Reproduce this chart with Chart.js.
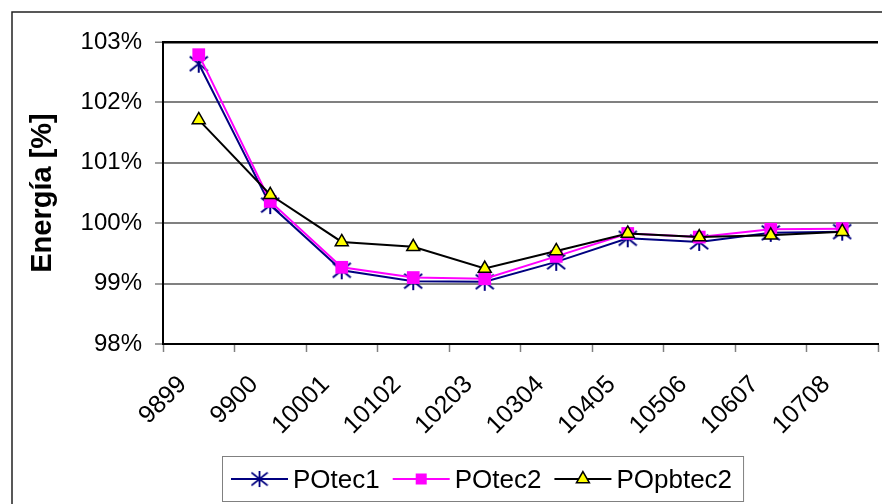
<!DOCTYPE html>
<html>
<head>
<meta charset="utf-8">
<script src="https://cdn.jsdelivr.net/npm/chart.js"></script>
<style>
  html, body { margin: 0; padding: 0; background: #fff; overflow: hidden; }
  #wrap { width: 890px; height: 504px; }
</style>
</head>
<body>
<div id="wrap"><canvas id="chart" width="890" height="504"></canvas></div>
<script>
const categories = ['9899', '9900', '10001', '10102', '10203', '10304', '10405', '10506', '10607', '10708'];
const poTec1   = [102.64, 100.30, 99.22, 99.04, 99.03, 99.36, 99.75, 99.69, 99.84, 99.86];
const poTec2   = [102.79, 100.36, 99.27, 99.10, 99.08, 99.45, 99.83, 99.77, 99.90, 99.91];
const poPbTec2 = [101.71, 100.47, 99.69, 99.61, 99.25, 99.54, 99.83, 99.77, 99.80, 99.86];
const seriesNames = ['POtec1', 'POtec2', 'POpbtec2'];
const yMin = 98, yMax = 103, yStep = 1;

const FONT = '"Liberation Sans", Arial, sans-serif';
const NAVY = '#000080', MAGENTA = '#FF00FF', YELLOW = '#FFFF00';

// asterisk marker: vertical bar plus two diagonals
function makeStar(size, color) {
  const c = document.createElement('canvas');
  c.width = size; c.height = size;
  const g = c.getContext('2d');
  const m = size / 2, r = size / 2 - 1;
  g.strokeStyle = color;
  g.lineWidth = 2;
  g.beginPath();
  g.moveTo(m, m - r); g.lineTo(m, m + r);
  g.moveTo(m - r, m - r * 0.8); g.lineTo(m + r, m + r * 0.8);
  g.moveTo(m - r, m + r * 0.8); g.lineTo(m + r, m - r * 0.8);
  g.stroke();
  return c;
}
const starImg = makeStar(20, NAVY);

function drawMarker(ctx, kind, x, y) {
  ctx.save();
  if (kind === 'star') {
    ctx.drawImage(starImg, x - 9, y - 9, 18, 18);
  } else if (kind === 'rect') {
    ctx.fillStyle = MAGENTA;
    ctx.fillRect(x - 5.5, y - 5.5, 11, 11);
  } else {
    const r = 7.5;
    ctx.beginPath();
    ctx.moveTo(x, y - r);
    ctx.lineTo(x + r * 0.866, y + r / 2);
    ctx.lineTo(x - r * 0.866, y + r / 2);
    ctx.closePath();
    ctx.fillStyle = YELLOW;
    ctx.fill();
    ctx.lineWidth = 1.5;
    ctx.strokeStyle = '#000';
    ctx.stroke();
  }
  ctx.restore();
}

const legendItems = [
  { text: seriesNames[0], color: NAVY, marker: 'star' },
  { text: seriesNames[1], color: MAGENTA, marker: 'rect' },
  { text: seriesNames[2], color: '#000', marker: 'triangle' }
];

// outer frame and boxed legend under the axis
const framePlugin = {
  id: 'framePlugin',
  afterDraw(chart) {
    const ctx = chart.ctx;
    ctx.save();
    ctx.strokeStyle = '#222';
    ctx.lineWidth = 1.5;
    ctx.beginPath();
    ctx.moveTo(12, chart.height);
    ctx.lineTo(12, 12);
    ctx.lineTo(chart.width, 12);
    ctx.stroke();

    ctx.font = '26px ' + FONT;
    const startX = 231, lineY = 479, baseY = 488;
    let x = startX;
    const placed = [];
    legendItems.forEach(it => {
      const w = ctx.measureText(it.text).width;
      placed.push({ it, x, w });
      x += 62 + w + 13;
    });
    const last = placed[placed.length - 1];
    const boxL = startX - 9, boxR = last.x + 62 + last.w + 11;
    ctx.fillStyle = '#fff';
    ctx.fillRect(boxL, 456, boxR - boxL, 45);
    ctx.strokeStyle = '#808080';
    ctx.lineWidth = 1;
    ctx.strokeRect(boxL + 0.5, 456.5, boxR - boxL, 45);

    placed.forEach(p => {
      ctx.strokeStyle = p.it.color;
      ctx.lineWidth = 2;
      ctx.beginPath();
      ctx.moveTo(p.x, lineY);
      ctx.lineTo(p.x + 57, lineY);
      ctx.stroke();
      drawMarker(ctx, p.it.marker, p.x + 28.5, lineY);
      ctx.fillStyle = '#000';
      ctx.textBaseline = 'alphabetic';
      ctx.textAlign = 'left';
      ctx.fillText(p.it.text, p.x + 62, baseY);
    });
    ctx.restore();
  }
};

new Chart(document.getElementById('chart'), {
  type: 'line',
  data: {
    labels: categories,
    datasets: [
      {
        label: seriesNames[0], data: poTec1, order: 3,
        borderColor: NAVY, borderWidth: 2, tension: 0,
        pointStyle: starImg, pointRadius: 10
      },
      {
        label: seriesNames[1], data: poTec2, order: 2,
        borderColor: MAGENTA, borderWidth: 2, tension: 0,
        pointStyle: 'rect', pointRadius: 9,
        pointBackgroundColor: MAGENTA, pointBorderColor: MAGENTA, pointBorderWidth: 0
      },
      {
        label: seriesNames[2], data: poPbTec2, order: 1,
        borderColor: '#000', borderWidth: 2, tension: 0,
        pointStyle: 'triangle', pointRadius: 7.5,
        pointBackgroundColor: YELLOW, pointBorderColor: '#000', pointBorderWidth: 1.5
      }
    ]
  },
  options: {
    responsive: false,
    devicePixelRatio: 1,
    animation: false,
    events: [],
    layout: { padding: { left: 12, top: 42, right: 2, bottom: 0 } },
    plugins: {
      legend: { display: false },
      tooltip: { enabled: false }
    },
    scales: {
      x: {
        offset: true,
        afterFit: s => { s.height = 160; },
        border: { color: '#000', width: 2 },
        grid: { offset: true, drawOnChartArea: false, tickLength: 8, tickColor: '#808080', tickWidth: 1.5 },
        ticks: {
          autoSkip: false, minRotation: 45, maxRotation: 45,
          padding: 18, labelOffset: -16,
          color: '#000', font: { family: FONT, size: 25 }
        }
      },
      y: {
        min: yMin, max: yMax,
        afterFit: s => { s.width = 151; },
        border: { color: '#000', width: 2 },
        grid: {
          color: c => (c.tick && (c.tick.value === yMax || c.tick.value === yMin)) ? '#000' : '#808080',
          lineWidth: c => (c.tick && c.tick.value === yMax) ? 2.5 : 2,
          tickLength: 8, tickColor: '#808080', tickWidth: 1.5
        },
        ticks: {
          stepSize: yStep, padding: 13,
          color: '#000', font: { family: FONT, size: 24 },
          callback: v => v + '%'
        },
        title: {
          display: true, text: 'Energía [%]',
          color: '#000', font: { family: FONT, size: 29, weight: 'bold' },
          padding: { top: 14, bottom: 0 }
        }
      }
    }
  },
  plugins: [framePlugin]
});
</script>
</body>
</html>
